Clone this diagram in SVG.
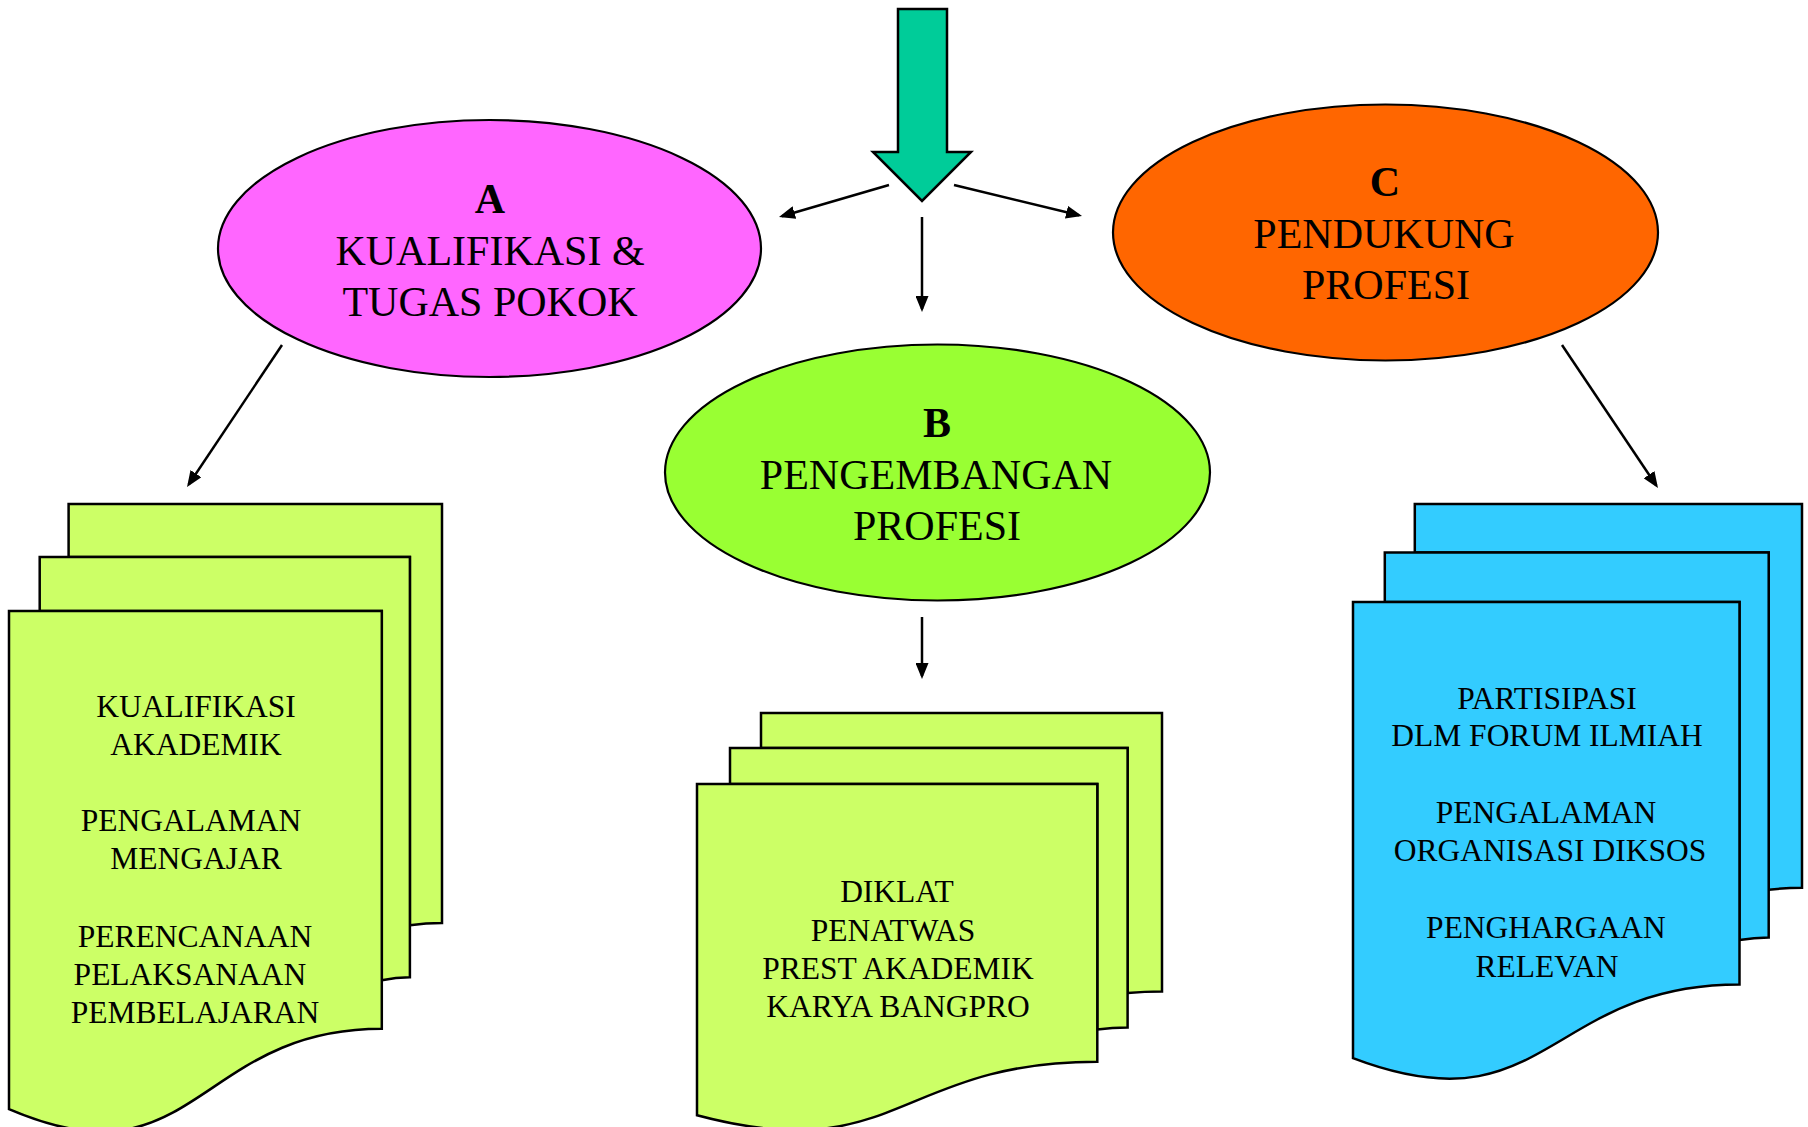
<svg xmlns="http://www.w3.org/2000/svg" width="1808" height="1127" viewBox="0 0 1808 1127">
<defs>
<style>
.ell{stroke:#000;stroke-width:2.2}
.doc{stroke:#000;stroke-width:2.5;stroke-linejoin:miter}
.lime{fill:#CCFF66}
.sky{fill:#33CCFF}
.t{font-family:"Liberation Serif","Times New Roman",serif;fill:#000;text-anchor:middle}
.big{font-size:42px}
.bold{font-weight:bold}
.sm{font-size:31.5px}
.con{stroke:#000;stroke-width:2.5;fill:none;marker-end:url(#ah)}
</style>
<marker id="ah" markerUnits="userSpaceOnUse" markerWidth="16" markerHeight="13" refX="13" refY="6.5" orient="auto">
<path d="M0,0 L16,6.5 L0,13 Z" fill="#000"/>
</marker>
</defs>
<rect width="1808" height="1127" fill="#fff"/>

<g id="input-arrow">
<polygon points="898,9 947,9 947,152 971,152 922,201 873,152 898,152" fill="#00CC99" stroke="#000" stroke-width="2.5" stroke-linejoin="miter"/>
</g>

<g id="nodeA">
<ellipse class="ell" cx="489.5" cy="248.5" rx="271.5" ry="128.5" fill="#FF66FF"/>
<text class="t big bold" x="490" y="213">A</text>
<text class="t big" x="490" y="265">KUALIFIKASI &amp;</text>
<text class="t big" x="490" y="316">TUGAS POKOK</text>
</g>

<g id="nodeB">
<ellipse class="ell" cx="937.5" cy="472.5" rx="272.5" ry="128" fill="#99FF33"/>
<text class="t big bold" x="937" y="437">B</text>
<text class="t big" x="936" y="489">PENGEMBANGAN</text>
<text class="t big" x="937" y="540">PROFESI</text>
</g>

<g id="nodeC">
<ellipse class="ell" cx="1385.5" cy="232.5" rx="272.5" ry="128" fill="#FF6600"/>
<text class="t big bold" x="1385" y="196">C</text>
<text class="t big" x="1384" y="248">PENDUKUNG</text>
<text class="t big" x="1386" y="299">PROFESI</text>
</g>

<g id="docsA">
<path class="doc lime" d="M68.6,556.9 L68.6,504 L442,504 L442,923.1 C426,923.1 409.9,925.3 409.9,925.3 L409.9,556.9 Z"/>
<path class="doc lime" d="M39.7,611 L39.7,556.9 L409.9,556.9 L409.9,977.3 C395.9,977.3 381.8,980.2 381.8,980.2 L381.8,611 Z"/>
<path class="doc lime" d="M9,1109.2 C195.4,1189.5 195.4,1028.8 381.8,1028.8 L381.8,611 L9,611 Z"/>
<text class="t sm" x="196" y="717">KUALIFIKASI</text>
<text class="t sm" x="196" y="755">AKADEMIK</text>
<text class="t sm" x="191" y="831">PENGALAMAN</text>
<text class="t sm" x="196" y="869">MENGAJAR</text>
<text class="t sm" x="195" y="947">PERENCANAAN</text>
<text class="t sm" x="190" y="985">PELAKSANAAN</text>
<text class="t sm" x="195" y="1023">PEMBELAJARAN</text>
</g>

<g id="docsB">
<path class="doc lime" d="M761,748.1 L761,713 L1162,713 L1162,991.5 C1144.8,991.5 1127.6,993 1127.6,993 L1127.6,748.1 Z"/>
<path class="doc lime" d="M730,784.1 L730,748.1 L1127.6,748.1 L1127.6,1027.5 C1112.4,1027.5 1097.3,1029.4 1097.3,1029.4 L1097.3,784.1 Z"/>
<path class="doc lime" d="M697,1115.2 C897.2,1168.6 897.2,1061.8 1097.3,1061.8 L1097.3,784.1 L697,784.1 Z"/>
<text class="t sm" x="897" y="902">DIKLAT</text>
<text class="t sm" x="893" y="941">PENATWAS</text>
<text class="t sm" x="898" y="979">PREST AKADEMIK</text>
<text class="t sm" x="898" y="1017">KARYA BANGPRO</text>
</g>

<g id="docsC">
<path class="doc sky" d="M1414.8,552.4 L1414.8,504 L1802,504 L1802,887.8 C1785.4,887.8 1768.7,889.8 1768.7,889.8 L1768.7,552.4 Z"/>
<path class="doc sky" d="M1384.8,602 L1384.8,552.4 L1768.7,552.4 L1768.7,937.4 C1754.1,937.4 1739.5,940.1 1739.5,940.1 L1739.5,602 Z"/>
<path class="doc sky" d="M1353,1058.2 C1546.3,1131.8 1546.3,984.6 1739.5,984.6 L1739.5,602 L1353,602 Z"/>
<text class="t sm" x="1547" y="709">PARTISIPASI</text>
<text class="t sm" x="1547" y="746">DLM FORUM ILMIAH</text>
<text class="t sm" x="1546" y="823">PENGALAMAN</text>
<text class="t sm" x="1550" y="861">ORGANISASI DIKSOS</text>
<text class="t sm" x="1546" y="938">PENGHARGAAN</text>
<text class="t sm" x="1547" y="977">RELEVAN</text>
</g>

<g id="connectors">
<line class="con" x1="889" y1="185" x2="781.9" y2="216.2"/>
<line class="con" x1="954" y1="185" x2="1079.1" y2="215.3"/>
<line class="con" x1="922" y1="217" x2="922" y2="309"/>
<line class="con" x1="282" y1="345" x2="188.7" y2="484.5"/>
<line class="con" x1="1562" y1="345" x2="1656.3" y2="485.5"/>
<line class="con" x1="922" y1="617" x2="922" y2="676"/>
</g>
</svg>
